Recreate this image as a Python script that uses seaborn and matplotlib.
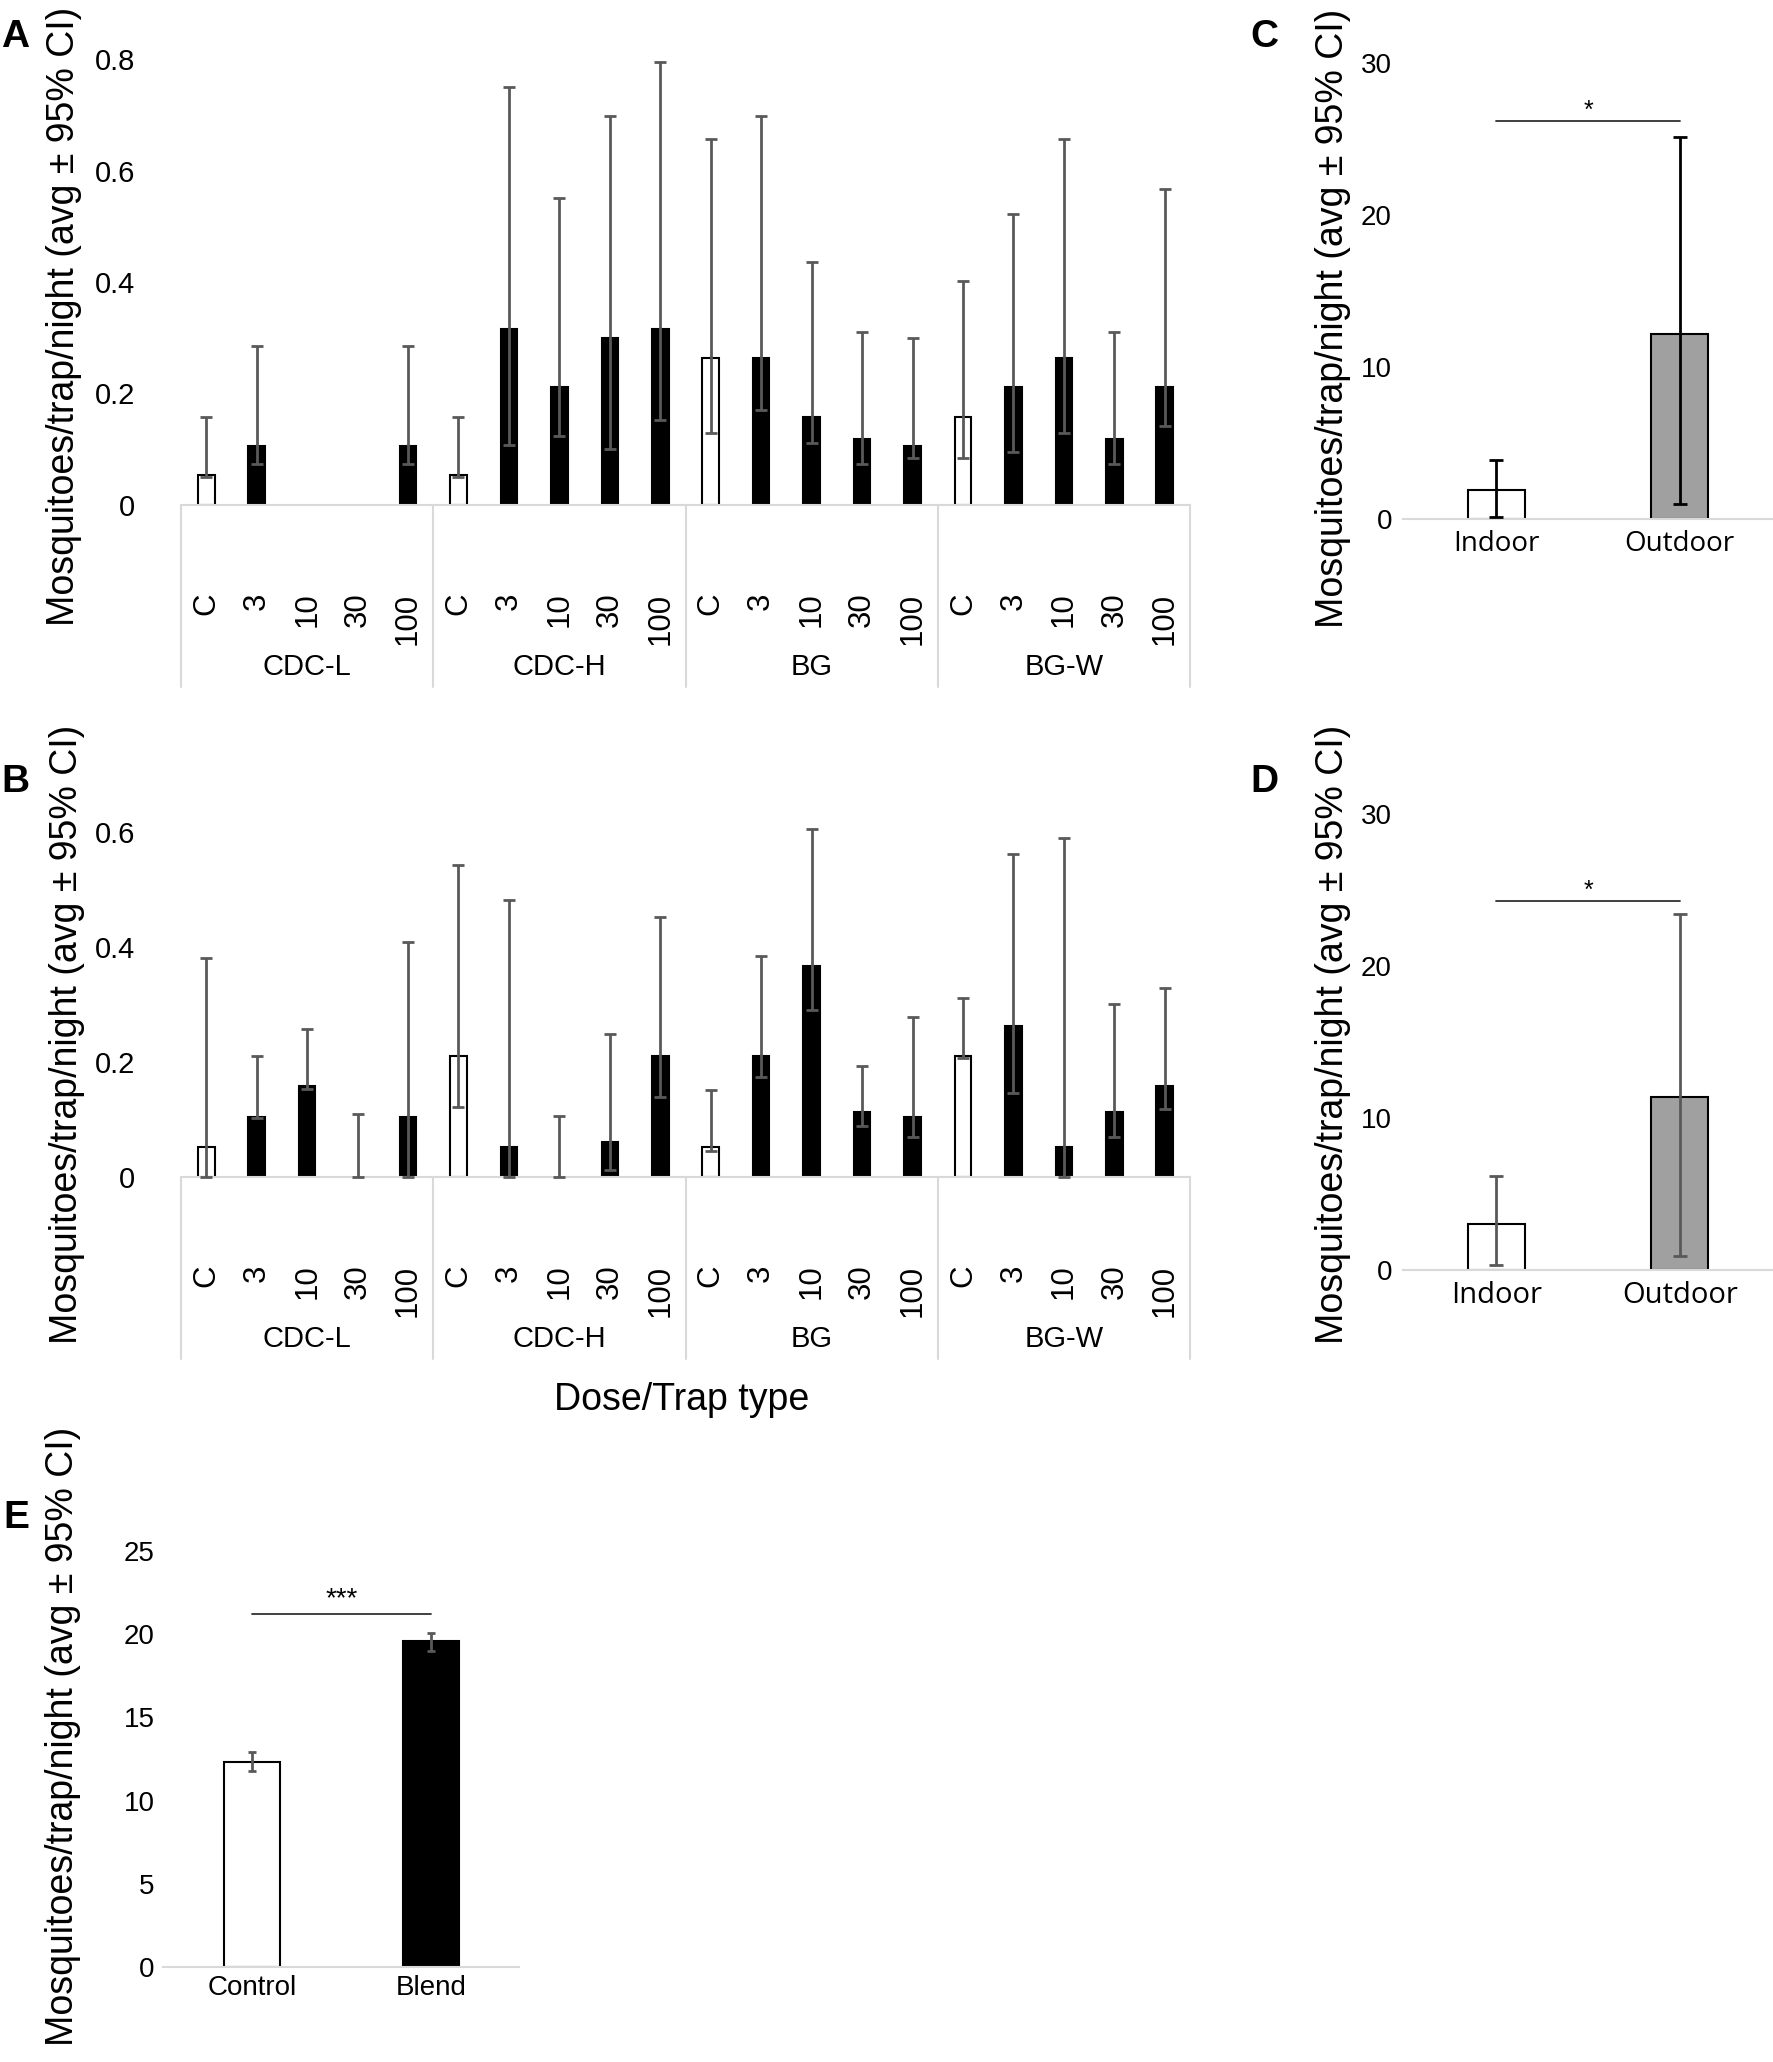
import numpy as np
import pandas as pd
import seaborn as sns
import matplotlib.pyplot as plt
from matplotlib.transforms import blended_transform_factory

# data
groups = ['CDC-L', 'CDC-H', 'BG', 'BG-W']
doses = ['C', '3', '10', '30', '100']

# panel A
a_mean = [0.053, 0.105, 0.0, 0.0, 0.105,
          0.053, 0.316, 0.211, 0.300, 0.316,
          0.263, 0.263, 0.158, 0.118, 0.105,
          0.158, 0.211, 0.263, 0.118, 0.211]
a_lo = [0.050, 0.074, np.nan, np.nan, 0.074,
        0.050, 0.108, 0.124, 0.100, 0.153,
        0.130, 0.170, 0.112, 0.073, 0.084,
        0.084, 0.095, 0.130, 0.073, 0.141]
a_hi = [0.157, 0.285, np.nan, np.nan, 0.285,
        0.157, 0.749, 0.551, 0.698, 0.794,
        0.657, 0.698, 0.436, 0.311, 0.299,
        0.402, 0.522, 0.657, 0.311, 0.567]

# panel B
b_mean = [0.053, 0.105, 0.158, 0.0, 0.105,
          0.211, 0.053, 0.0, 0.061, 0.211,
          0.053, 0.211, 0.368, 0.113, 0.105,
          0.211, 0.263, 0.053, 0.113, 0.158]
b_lo = [0.0, 0.102, 0.153, 0.0, 0.0,
        0.122, 0.0, 0.0, 0.013, 0.139,
        0.046, 0.174, 0.291, 0.088, 0.069,
        0.208, 0.147, 0.0, 0.069, 0.119]
b_hi = [0.382, 0.210, 0.257, 0.110, 0.410,
        0.543, 0.482, 0.106, 0.249, 0.453,
        0.152, 0.385, 0.606, 0.193, 0.279,
        0.312, 0.562, 0.590, 0.301, 0.329]

# panels C and D
io_cats = ['Indoor', 'Outdoor']
c_mean = [1.9, 12.2]
c_lo = [0.1, 1.0]
c_hi = [3.9, 25.1]
d_mean = [3.0, 11.4]
d_lo = [0.35, 0.9]
d_hi = [6.2, 23.4]

# panel E
e_cats = ['Control', 'Blend']
e_mean = [12.3, 19.6]
e_lo = [11.8, 19.0]
e_hi = [12.9, 20.1]

ylab = 'Mosquitoes/trap/night (avg \u00b1 95% CI)'

sns.set_style('white', {'text.color': 'black', 'xtick.color': 'black',
                        'ytick.color': 'black'})
plt.rcParams['font.family'] = ['Liberation Sans', 'DejaVu Sans']

W, H = 1773, 2062
fig = plt.figure(figsize=(W / 100, H / 100), dpi=100)


def rect(left, right, base, top):
    return [left / W, 1 - base / H, (right - left) / W, (base - top) / H]


def clean(ax, ypad, ysize):
    for s in ['left', 'right', 'top']:
        ax.spines[s].set_visible(False)
    ax.spines['bottom'].set_color('#d9d9d9')
    ax.spines['bottom'].set_linewidth(1.5)
    ax.tick_params(axis='both', length=0, labelcolor='black')
    ax.tick_params(axis='y', pad=ypad, labelsize=ysize)
    ax.set_xlabel('')
    ax.set_ylabel('')


def dose_panel(ax, mean, lo, hi, ymax, yticks, ytl, h_px):
    keys = [g + ' ' + d for g in groups for d in doses]
    fills = ['white' if d == 'C' else 'black' for g in groups for d in doses]
    df = pd.DataFrame({'key': keys, 'val': mean})
    sns.barplot(data=df, x='key', y='val', hue='key', order=keys,
                palette=dict(zip(keys, fills)), width=0.33, edgecolor='black',
                linewidth=1.5, legend=False, errorbar=None, ax=ax)
    for p in ax.patches:
        if p.get_height() == 0:
            p.set_visible(False)
    m = np.array(mean)
    err = [m - np.array(lo), np.array(hi) - m]
    ax.errorbar(range(20), m, yerr=err, fmt='none', ecolor='#595959',
                elinewidth=2, capsize=4.6, capthick=2, zorder=5, clip_on=False)
    ax.set_xlim(-0.5, 19.5)
    ax.set_ylim(0, ymax)
    ax.set_yticks(yticks)
    ax.set_yticklabels(ytl)
    ax.set_xticks(range(20))
    ax.set_xticklabels(doses * 4, rotation=90, va='top', fontsize=22.5)
    clean(ax, 33, 21)
    ax.tick_params(axis='x', pad=63)
    tr = blended_transform_factory(ax.transData, ax.transAxes)
    depth = 182 / h_px
    for xb in [-0.5, 4.5, 9.5, 14.5, 19.5]:
        ax.plot([xb, xb], [0, -depth], transform=tr, color='#d9d9d9', lw=1.5,
                clip_on=False)
    for i, g in enumerate(groups):
        ax.text(i * 5 + 2, -162 / h_px, g, transform=tr, ha='center',
                va='center', fontsize=21)


def two_bar(ax, cats, mean, lo, hi, fills, ecol, cap, xlim, ymax, yticks,
            ytl, xfont, xsize, xpad, ypad):
    df = pd.DataFrame({'cat': cats, 'val': mean})
    sns.barplot(data=df, x='cat', y='val', hue='cat', order=cats,
                palette=dict(zip(cats, fills)), width=0.31, edgecolor='black',
                linewidth=1.5, legend=False, errorbar=None, ax=ax)
    m = np.array(mean)
    err = [m - np.array(lo), np.array(hi) - m]
    ax.errorbar(range(2), m, yerr=err, fmt='none', ecolor=ecol,
                elinewidth=2, capsize=cap, capthick=2, zorder=5)
    ax.set_xlim(*xlim)
    ax.set_ylim(0, ymax)
    ax.set_yticks(yticks)
    ax.set_yticklabels(ytl)
    clean(ax, ypad, 20)
    ax.tick_params(axis='x', pad=xpad)
    for t in ax.get_xticklabels():
        t.set_fontfamily(xfont)
        t.set_fontsize(xsize)


def sig(ax, y, ys, txt, size):
    ax.plot([0, 1], [y, y], color='#303030', lw=1.3)
    ax.text(0.5, ys, txt, ha='center', va='baseline', fontsize=size)


# A
axA = fig.add_axes(rect(181, 1190, 505, 59))
dose_panel(axA, a_mean, a_lo, a_hi, 0.8, [0, 0.2, 0.4, 0.6, 0.8],
           ['0', '0.2', '0.4', '0.6', '0.8'], 446)

# B
axB = fig.add_axes(rect(181, 1190, 1177, 775))
dose_panel(axB, b_mean, b_lo, b_hi, 0.7, [0, 0.2, 0.4, 0.6],
           ['0', '0.2', '0.4', '0.6'], 402)
fig.text(682 / W, 1 - 1400 / H, 'Dose/Trap type', ha='center', va='center',
         fontsize=27)

# C
axC = fig.add_axes(rect(1403, 1773, 519, 63))
two_bar(axC, io_cats, c_mean, c_lo, c_hi, ['white', '#a0a0a0'], 'black', 4.7,
        (-0.508, 1.508), 30, [0, 10, 20, 30], ['0', '10', '20', '30'],
        ['Open Sans', 'DejaVu Sans'], 20, 8, 8)
sig(axC, 26.2, 26.4, '*', 18)

# D
axD = fig.add_axes(rect(1403, 1773, 1270, 814))
two_bar(axD, io_cats, d_mean, d_lo, d_hi, ['white', '#a0a0a0'], '#595959', 4.7,
        (-0.508, 1.508), 30, [0, 10, 20, 30], ['0', '10', '20', '30'],
        ['Open Sans', 'DejaVu Sans'], 21, 8, 8)
sig(axD, 24.3, 24.5, '*', 18)

# E
axE = fig.add_axes(rect(163, 519, 1967, 1551))
two_bar(axE, e_cats, e_mean, e_lo, e_hi, ['white', 'black'], '#595959', 3,
        (-0.497, 1.49), 25, [0, 5, 10, 15, 20, 25],
        ['0', '5', '10', '15', '20', '25'], ['Liberation Sans'], 20, 6, 6)
sig(axE, 21.2, 21.7, '***', 20)

# y labels
for x, y in [(64, 316), (67, 1034), (1333, 318), (1333, 1034), (63, 1736)]:
    fig.text(x / W, 1 - y / H, ylab, rotation=90, ha='center', va='center',
             fontsize=27)

# panel letters
for txt, x, y in [('A', 1, 37), ('B', 1, 782), ('C', 1250, 37),
                  ('D', 1250, 782), ('E', 3, 1518)]:
    fig.text(x / W, 1 - y / H, txt, ha='left', va='center', fontsize=28,
             fontweight='bold')

fig.savefig('out.png', dpi=100)
